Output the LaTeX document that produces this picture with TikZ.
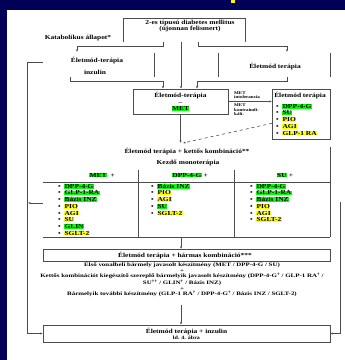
\documentclass[tikz,border=0pt]{standalone}
\usepackage{fontspec}
\setmainfont{Liberation Serif}[FakeStretch=1.2]
\newfontfamily\widefont{Liberation Serif}[FakeStretch=1.33]
\usetikzlibrary{arrows.meta}
\definecolor{slidebg}{RGB}{0,0,88}
\definecolor{hlg}{RGB}{0,255,0}
\definecolor{hly}{RGB}{255,255,0}
\setlength{\fboxsep}{0.3pt}
\newcommand{\hg}[1]{\colorbox{hlg}{#1}}
\newcommand{\dg}{\textsuperscript{†}}

\begin{document}
\begin{tikzpicture}[x=1pt,y=-1pt]
\tikzstyle{txt}=[font=\fontsize{6.2}{6.2}\selectfont\bfseries, inner sep=0pt, align=center]
\tikzstyle{sm}=[font=\fontsize{4.2}{4.5}\selectfont\bfseries, inner sep=0pt, align=left]
\tikzstyle{fine}=[font=\widefont\fontsize{5.2}{5.5}\selectfont\bfseries, inner sep=0pt, align=center]
\tikzstyle{ln}=[line width=0.6pt, draw=black!70]
\tikzstyle{arr}=[ln, -{Latex[length=2.4pt,width=2.2pt]}]

% slide
\fill[slidebg] (0,0) rectangle (345,360);
\fill[white] (7,10) rectangle (345,360);
\fill[yellow] (231,0) rectangle (235,3);

% new diagnosis
\node[txt] (diab) at (190,26) {2-es típusú diabetes mellitus\\(újonnan felismert)};
\draw[ln] (123,42) |- (245,18) -- (245,42);
\node[txt] (katab) at (78,38) {Katabolikus állapot*};
\coordinate (sl) at (163,42);
\coordinate (smid) at (181,42);
\coordinate (sr) at (198,42);

\node[txt] (eti) at (97,60) {Életmód-terápia};
\node[txt] (inz) at (95,72) {inzulin};
\draw[ln] (154,53) -- (154,77);
\draw[arr] (sl) -- ++(0,4) -| (77,52);

\node[txt] (etr) at (275,66) {Életmód terápia};
\draw[ln] (218,53) -- (218,77);
\draw[ln] (330,53) -- (330,77);
\draw[arr] (sr) -- ++(0,4) -| (287,52);

% metformin
\node[txt, draw=black!70, line width=0.6pt, minimum width=95pt, minimum height=25pt] (met) at (180.5,101.5) {Életmód-terápia\\–\\\hg{MET}};
\coordinate (ml) at (163,81);
\coordinate (mr) at (197,81);
\draw[arr] (70,77) |- (ml) -- (ml |- met.north);
\draw[arr] (smid) -- (smid |- met.north);
\draw[arr] (287,77) |- (mr) -- (mr |- met.north);

\node[draw=black!70, line width=0.6pt, minimum width=58pt, minimum height=50pt, inner sep=0pt, anchor=north west] (lst) at (272,89) {};
\node[txt] (lstt) at (300,95) {Életmód terápia};
\foreach \t/\c [count=\i] in {DPP-4-G/hlg, SU/hlg, PIO/hly, AGI/hly, GLP-1 RA/hly}
  \node[txt, anchor=west] (l\i) at (276,99.5+6.7*\i) {\textbullet\hspace{3.5pt}\colorbox{\c}{\t}};

\draw[arr] (met.east) -- (met.east -| lst.west);
\node[sm, anchor=west] (mi) at (234,95) {MET\\intolerancia};
\node[sm, anchor=west] (mk) at (234,110) {MET\\kontraindi-\\kált.};

% dual combination
\coordinate (k2in) at (183,143);
\node[txt] (k2) at (187,151) {Életmód terápia + kettős kombináció**};
\draw[arr] (met.south) -- (met.south |- k2in);
\draw[arr, dashed] ([yshift=-9pt]lst.west) -- (k2in);
\node[txt] (kezdo) at (188,163) {Kezdő monoterápia};

\draw[ln] (43,182) -- (330,182);
\draw[ln] (43,237) -- (330,237);
\draw[ln] (138,170) -- (138,237);
\draw[ln] (234,170) -- (234,237);
\draw[ln] (330,147) -- (330,237);

\node[txt] (hmet) at (102,175) {\hg{MET} \ +};
\node[txt] (hdpp) at (190,175) {\hg{DPP-4-G} +};
\node[txt] (hsu) at (285,175) {\hg{SU} +};

\foreach \t/\c [count=\i] in {DPP-4-G/hlg, GLP-1-RA/hlg, Bázis INZ/hlg, PIO/hly, AGI/hly, SU/hly, GLIN/hlg, SGLT-2/hly}
  \node[txt, anchor=west] (a\i) at (58,179.5+6.7*\i) {\textbullet\hspace{3.5pt}\colorbox{\c}{\t}};
\foreach \t/\c [count=\i] in {Bázis INZ/hlg, PIO/hly, AGI/hly, SU/hlg, SGLT-2/hly}
  \node[txt, anchor=west] (b\i) at (151,179.5+6.7*\i) {\textbullet\hspace{3.5pt}\colorbox{\c}{\t}};
\foreach \t/\c [count=\i] in {DPP-4-G/hlg, GLP-1-RA/hlg, Bázis INZ/hlg, PIO/hly, AGI/hly, SGLT-2/hly}
  \node[txt, anchor=west] (c\i) at (250,179.5+6.7*\i) {\textbullet\hspace{3.5pt}\colorbox{\c}{\t}};

\draw[arr] (43,203) -- (28,203);

% triple combination
\coordinate (tb) at (181,237);
\draw[arr] (tb) -- ++(0,12);
\draw[ln] (43,249) rectangle (330,261);
\node[txt] (k3) at (185,255) {Életmód terápia + hármas kombináció***};
\node[fine] (k3t) at (182,280) {Első vonalbeli bármely javasolt készítmény (MET / DPP-4-G / SU)\\+\\
  Kettős kombinációt kiegészítő szereplő bármelyik javasolt készítmény (DPP-4-G\dg{} / GLP-1 RA\dg{} /\\
  SU\dg\dg{} / GLIN\dg{} / Bázis INZ)\\+\\
  Bármelyik további készítmény (GLP-1 RA\dg{} / DPP-4-G\dg{} / Bázis INZ / SGLT-2)};

% insulin
\node[txt, draw=black!70, line width=0.6pt, minimum width=287pt, minimum height=17pt] (ins) at (186.5,333.5) {Életmód terápia + inzulin\\{\fontsize{5}{5.6}\selectfont ld. 4. ábra}};
\coordinate (ib) at (181,305);
\draw[arr] (ib) -- (ib |- ins.north);
\coordinate (lf) at (27,62);
\coordinate (rf) at (340,202);
\draw[arr] (43,62) -- (lf) |- (ins.west);
\draw[arr] (rf) |- (ins.east);
\end{tikzpicture}
\end{document}
